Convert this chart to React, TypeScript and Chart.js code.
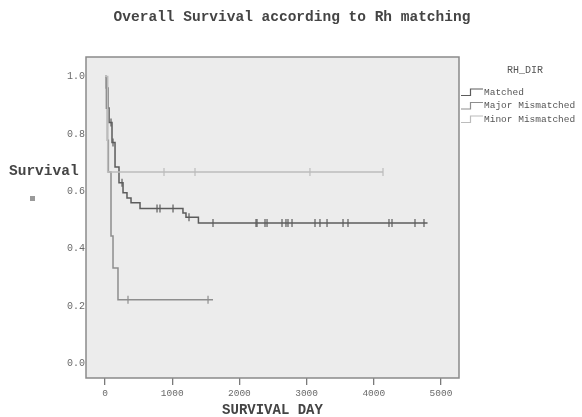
import React, { useEffect, useRef } from "react";
import { Chart, registerables } from "chart.js";

Chart.register(...registerables);

const chartTitle = "Overall Survival according to Rh matching";
const xAxisTitle = "SURVIVAL DAY";
const yAxisTitle = "Survival";
const legendTitle = "RH_DIR";
const seriesNames = ["Matched", "Major Mismatched", "Minor Mismatched"];
const seriesColors = ["#5c5c5c", "#8e8e8e", "#bcbcbc"];

const xTicks = [0, 1000, 2000, 3000, 4000, 5000];
const yTicks = [0, 0.2, 0.4, 0.6, 0.8, 1.0];

// Matched
const matchedDays = [0, 20, 45, 60, 104, 149, 208, 268, 327, 387, 521, 1160, 1205, 1390, 4800];
const matchedSurv = [1.0, 0.96, 0.89, 0.84, 0.77, 0.685, 0.63, 0.595, 0.577, 0.56, 0.54, 0.524, 0.51, 0.49, 0.49];
const matchedCensored = [89, 119, 253, 774, 818, 1012, 1250, 1607, 2247, 2262, 2381, 2411, 2634, 2693, 2723, 2783, 3125, 3199, 3304, 3542, 3616, 4226, 4271, 4613, 4747];

// Major Mismatched
const majorDays = [0, 20, 35, 50, 89, 119, 193, 1607];
const majorSurv = [1.0, 0.889, 0.778, 0.667, 0.444, 0.333, 0.222, 0.222];
const majorCensored = [342, 1533];

// Minor Mismatched
const minorDays = [0, 40, 4137];
const minorSurv = [1.0, 0.667, 0.667];
const minorCensored = [878, 1339, 3050, 4137];

function survAt(days: number[], surv: number[], t: number): number {
  let v = surv[0];
  for (let i = 0; i < days.length; i++) {
    if (days[i] <= t) v = surv[i];
  }
  return v;
}

const FONT = "'Liberation Mono', 'DejaVu Sans Mono', monospace";

const decorPlugin = {
  id: "decor",
  beforeDraw(chart: any) {
    const { ctx, chartArea } = chart;
    ctx.save();
    ctx.fillStyle = "#ffffff";
    ctx.fillRect(0, 0, chart.width, chart.height);
    ctx.fillStyle = "#ececec";
    ctx.fillRect(chartArea.left, chartArea.top, chartArea.right - chartArea.left, chartArea.bottom - chartArea.top);
    ctx.restore();
  },
  afterDraw(chart: any) {
    const { ctx, chartArea } = chart;
    ctx.save();
    // plot frame
    ctx.strokeStyle = "#8a8a8a";
    ctx.lineWidth = 1.5;
    ctx.strokeRect(chartArea.left, chartArea.top, chartArea.right - chartArea.left, chartArea.bottom - chartArea.top);

    // main title
    ctx.fillStyle = "#444444";
    ctx.font = `bold 14.5px ${FONT}`;
    ctx.textAlign = "center";
    ctx.textBaseline = "middle";
    ctx.fillText(chartTitle, 292, 17);

    // y title, horizontal
    ctx.textAlign = "left";
    ctx.fillText(yAxisTitle, 9, 171);
    ctx.fillStyle = "#9a9a9a";
    ctx.fillRect(30, 196, 5, 5);

    // legend
    ctx.fillStyle = "#555555";
    ctx.font = `10px ${FONT}`;
    ctx.textAlign = "center";
    ctx.fillText(legendTitle, 525, 70);
    const ys = [92, 105.5, 119];
    const x0 = chartArea.right + 2;
    seriesNames.forEach((name, i) => {
      const y = ys[i];
      ctx.strokeStyle = seriesColors[i];
      ctx.lineWidth = 1.2;
      ctx.beginPath();
      ctx.moveTo(x0, y + 3.5);
      ctx.lineTo(x0 + 9.5, y + 3.5);
      ctx.lineTo(x0 + 9.5, y - 3);
      ctx.lineTo(x0 + 22, y - 3);
      ctx.stroke();
      ctx.fillStyle = "#555555";
      ctx.font = `9.5px ${FONT}`;
      ctx.textAlign = "left";
      ctx.fillText(name, 484, y);
    });
    ctx.restore();
  },
};

export default function App() {
  const ref = useRef<HTMLCanvasElement | null>(null);

  useEffect(() => {
    if (!ref.current) return;
    const lineSet = (days: number[], surv: number[], i: number) => ({
      type: "line" as const,
      label: seriesNames[i],
      data: days.map((d, k) => ({ x: d, y: surv[k] })),
      stepped: "before" as const,
      borderColor: seriesColors[i],
      borderWidth: 1.5,
      pointRadius: 0,
      fill: false,
      order: 3 - i,
    });
    const censorSet = (days: number[], surv: number[], cens: number[], i: number) => ({
      type: "scatter" as const,
      label: seriesNames[i] + " censored",
      data: cens.map((c) => ({ x: c, y: survAt(days, surv, c) })),
      pointStyle: "line" as const,
      rotation: 90,
      pointRadius: 4,
      borderColor: seriesColors[i],
      backgroundColor: seriesColors[i],
      borderWidth: 1.2,
      showLine: false,
      order: 3 - i,
    });

    const chart = new Chart(ref.current, {
      type: "line",
      data: {
        datasets: [
          lineSet(minorDays, minorSurv, 2),
          lineSet(majorDays, majorSurv, 1),
          lineSet(matchedDays, matchedSurv, 0),
          censorSet(minorDays, minorSurv, minorCensored, 2),
          censorSet(majorDays, majorSurv, majorCensored, 1),
          censorSet(matchedDays, matchedSurv, matchedCensored, 0),
        ] as any,
      },
      options: {
        animation: false,
        responsive: true,
        maintainAspectRatio: false,
        layout: { padding: { left: 0, right: 123, top: 57, bottom: 0 } },
        plugins: {
          legend: { display: false },
          tooltip: { enabled: false },
          title: { display: false },
        },
        scales: {
          x: {
            type: "linear",
            min: -283,
            max: 5268,
            afterFit: (s: any) => { s.height = 39; },
            afterBuildTicks: (s: any) => { s.ticks = xTicks.map((v) => ({ value: v })); },
            grid: { drawOnChartArea: false, drawTicks: true, tickLength: 7, color: "#7a7a7a", lineWidth: 1.3 },
            border: { display: false },
            ticks: {
              color: "#6a6a6a",
              font: { family: FONT, size: 9.5 },
              padding: 3,
              maxRotation: 0,
              callback: (v: any) => String(v),
            },
            title: {
              display: true,
              text: xAxisTitle,
              color: "#444444",
              font: { family: FONT, size: 14, weight: "bold", lineHeight: 1.0 },
              padding: { top: 0, bottom: 0 },
            },
          },
          y: {
            type: "linear",
            min: -0.0505,
            max: 1.068,
            afterFit: (s: any) => { s.width = 86; },
            afterBuildTicks: (s: any) => { s.ticks = yTicks.map((v) => ({ value: v })); },
            grid: { display: true, drawOnChartArea: false, drawTicks: false },
            border: { display: false },
            ticks: {
              color: "#6a6a6a",
              font: { family: FONT, size: 10 },
              padding: 1,
              callback: (v: any) => Number(v).toFixed(1),
            },
          },
        },
      },
      plugins: [decorPlugin],
    });
    return () => chart.destroy();
  }, []);

  return (
    <div style={{ position: "absolute", left: 0, top: 0, width: 582, height: 417 }}>
      <canvas ref={ref} />
    </div>
  );
}
